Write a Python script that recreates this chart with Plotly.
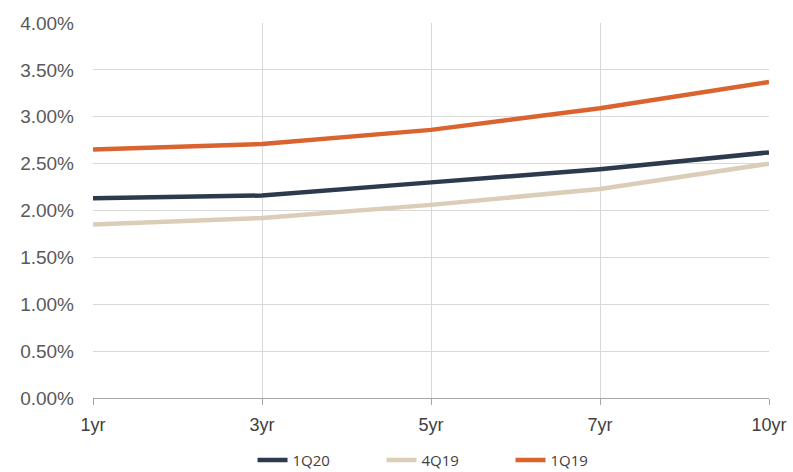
import plotly.graph_objects as go

tenors = ["1yr", "3yr", "5yr", "7yr", "10yr"]
q1_20 = [2.13, 2.16, 2.30, 2.44, 2.62]
q4_19 = [1.85, 1.92, 2.06, 2.23, 2.50]
q1_19 = [2.65, 2.71, 2.86, 3.09, 3.37]
y_ticks = [0, 0.5, 1.0, 1.5, 2.0, 2.5, 3.0, 3.5, 4.0]
y_tick_text = [f"{v:.2f}%" for v in y_ticks]

series = [
    ("1Q20", q1_20, "#2B3A4C"),
    ("4Q19", q4_19, "#DCCDB9"),
    ("1Q19", q1_19, "#DA6430"),
]

fig = go.Figure()
for name, vals, color in series:
    fig.add_trace(go.Scatter(
        x=tenors, y=vals, name=name, mode="lines",
        line=dict(color=color, width=4.5),
    ))

fig.update_layout(
    width=793, height=472,
    margin=dict(l=93, r=24, t=23, b=74, autoexpand=False),
    paper_bgcolor="white", plot_bgcolor="white",
    font=dict(family="Liberation Sans, Arial, sans-serif", color="#595959"),
    showlegend=True,
    legend=dict(
        orientation="h", x=0.236, xanchor="left", y=-0.166, yanchor="middle",
        entrywidth=84, entrywidthmode="pixels",
        font=dict(family="Open Sans, sans-serif", size=15, color="#404040"),
        traceorder="normal",
    ),
)
fig.update_xaxes(
    type="category", range=[0, 4],
    showgrid=True, gridcolor="#D9D9D9", gridwidth=1,
    showline=True, linecolor="#A6A6A6", linewidth=1,
    ticks="outside", ticklen=6, tickcolor="#A6A6A6",
    tickfont=dict(size=18, color="#404040"),
    ticklabelstandoff=4, automargin=False,
)
fig.update_yaxes(
    range=[0, 4], tickvals=y_ticks, ticktext=y_tick_text,
    showgrid=True, gridcolor="#D9D9D9", gridwidth=1,
    zeroline=False, showline=False,
    tickfont=dict(size=19, color="#595959"),
    ticks="", ticklabelstandoff=18, automargin=False,
)

fig.write_html("out.html")
